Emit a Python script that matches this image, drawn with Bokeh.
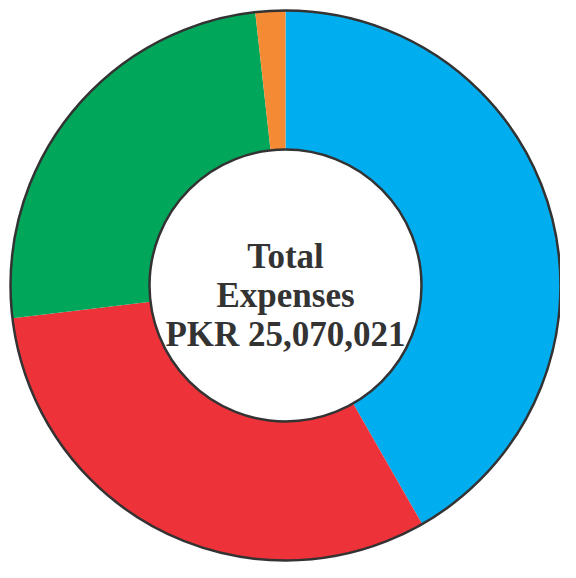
import numpy as np
from bokeh.plotting import figure
from bokeh.models import ColumnDataSource
from bokeh.core.properties import value
from bokeh.embed import file_html
from bokeh.resources import INLINE

# Data
categories = ["Expense 1", "Expense 2", "Expense 3", "Expense 4"]
amounts = [10459000, 7869000, 6302000, 440021]
colors = ["#00AEEF", "#EE3239", "#00A65A", "#F58A35"]
center_lines = ["Total", "Expenses", "PKR 25,070,021"]

total = sum(amounts)
fractions = np.array(amounts) / total
ends = np.cumsum(fractions) * 2 * np.pi
starts = np.concatenate([[0.0], ends[:-1]])
# clockwise from 12 o'clock
start_angle = np.pi / 2 - starts
end_angle = np.pi / 2 - ends

src = ColumnDataSource(dict(cat=categories, amt=amounts, color=colors,
                            start=start_angle, end=end_angle))

R_OUT = 275
R_IN = 136

p = figure(width=560, height=562, output_backend="svg", toolbar_location=None,
           x_range=(-285, 275), y_range=(-277, 285), min_border=0,
           match_aspect=False)
p.axis.visible = False
p.grid.visible = False
p.outline_line_color = None
p.background_fill_color = "white"
p.border_fill_color = "white"

p.annular_wedge(x=0, y=0, inner_radius=R_IN, outer_radius=R_OUT,
                start_angle="start", end_angle="end", direction="clock",
                fill_color="color", line_color=None, source=src)

# outlines
p.circle(x=0, y=0, radius=R_OUT, fill_color=None, line_color="#333333", line_width=2.5)
p.circle(x=0, y=0, radius=R_IN, fill_color="white", line_color="#333333", line_width=2.5)

p.text(x=[0, 0, 0], y=[29, -10, -49], text=center_lines,
       text_font=value("Liberation Serif"), text_font_style="bold",
       text_font_size="35px", text_color="#333333",
       text_align="center", text_baseline="alphabetic")

open("out.html", "w").write(file_html(p, INLINE))
